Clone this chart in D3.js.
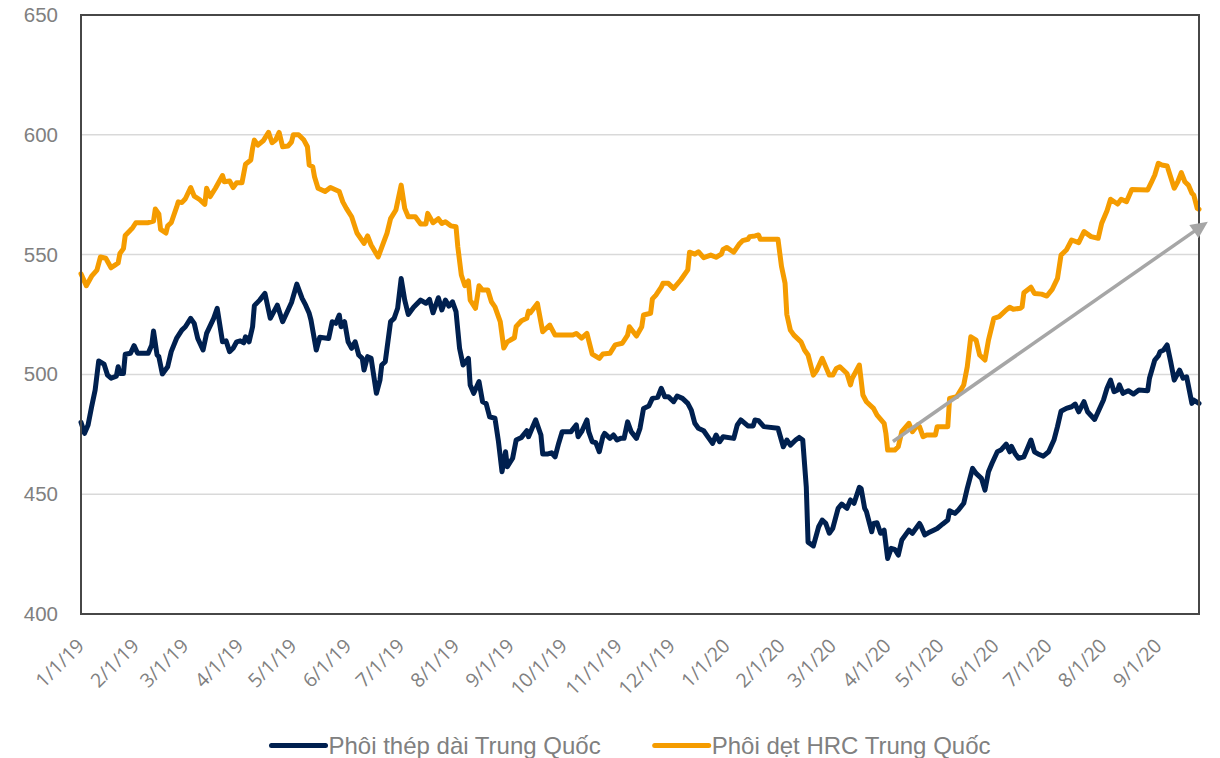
<!DOCTYPE html>
<html>
<head>
<meta charset="utf-8">
<script src="https://cdn.jsdelivr.net/npm/d3@7"></script>
<style>
  body { margin: 0; background: #fff; }
</style>
</head>
<body>
<svg id="chart" width="1220" height="758"></svg>
<script>
// Phôi dẹt HRC Trung Quốc
const hrcDates = [
  "2019-01-01","2019-01-04","2019-01-07","2019-01-10","2019-01-12","2019-01-15","2019-01-18","2019-01-20","2019-01-22","2019-01-23",
  "2019-01-25","2019-01-26","2019-01-29","2019-01-30","2019-02-01","2019-02-08","2019-02-11","2019-02-12","2019-02-14","2019-02-15",
  "2019-02-18","2019-02-19","2019-02-21","2019-02-24","2019-02-25","2019-02-27","2019-03-01","2019-03-04","2019-03-06","2019-03-09",
  "2019-03-12","2019-03-13","2019-03-15","2019-03-18","2019-03-22","2019-03-23","2019-03-26","2019-03-28","2019-03-30","2019-04-02",
  "2019-04-04","2019-04-07","2019-04-08","2019-04-09","2019-04-11","2019-04-14","2019-04-17","2019-04-19","2019-04-21","2019-04-23",
  "2019-04-25","2019-04-28","2019-04-30","2019-05-01","2019-05-04","2019-05-07","2019-05-09","2019-05-10","2019-05-12","2019-05-13",
  "2019-05-15","2019-05-19","2019-05-22","2019-05-27","2019-05-29","2019-05-31","2019-06-03","2019-06-06","2019-06-10","2019-06-12",
  "2019-06-14","2019-06-18","2019-06-20","2019-06-23","2019-06-25","2019-06-28","2019-07-01","2019-07-03","2019-07-05","2019-07-09",
  "2019-07-12","2019-07-15","2019-07-16","2019-07-19","2019-07-22","2019-07-24","2019-07-26","2019-07-29","2019-08-01","2019-08-02",
  "2019-08-04","2019-08-06","2019-08-08","2019-08-09","2019-08-12","2019-08-14","2019-08-16","2019-08-19","2019-08-21","2019-08-23",
  "2019-08-26","2019-08-28","2019-08-30","2019-09-03","2019-09-04","2019-09-07","2019-09-10","2019-09-11","2019-09-12","2019-09-16",
  "2019-09-19","2019-09-23","2019-09-26","2019-10-06","2019-10-08","2019-10-11","2019-10-14","2019-10-17","2019-10-21","2019-10-23",
  "2019-10-27","2019-10-30","2019-11-03","2019-11-06","2019-11-07","2019-11-11","2019-11-14","2019-11-15","2019-11-19","2019-11-20",
  "2019-11-22","2019-11-25","2019-11-26","2019-11-29","2019-12-02","2019-12-06","2019-12-10","2019-12-11","2019-12-14","2019-12-16",
  "2019-12-19","2019-12-23","2019-12-26","2019-12-29","2019-12-30","2020-01-01","2020-01-05","2020-01-08","2020-01-10","2020-01-13",
  "2020-01-14","2020-01-17","2020-01-19","2020-01-20","2020-01-30","2020-02-01","2020-02-03","2020-02-04","2020-02-06","2020-02-08",
  "2020-02-12","2020-02-14","2020-02-16","2020-02-19","2020-02-21","2020-02-24","2020-02-28","2020-03-01","2020-03-03","2020-03-05",
  "2020-03-09","2020-03-11","2020-03-12","2020-03-16","2020-03-18","2020-03-20","2020-03-24","2020-03-26","2020-03-30","2020-03-31",
  "2020-04-01","2020-04-05","2020-04-07","2020-04-09","2020-04-13","2020-04-15","2020-04-18","2020-04-19","2020-04-21","2020-04-23",
  "2020-04-28","2020-04-29","2020-05-05","2020-05-06","2020-05-10","2020-05-14","2020-05-16","2020-05-18","2020-05-21","2020-05-23",
  "2020-05-26","2020-05-28","2020-05-31","2020-06-03","2020-06-07","2020-06-09","2020-06-11","2020-06-15","2020-06-16","2020-06-17",
  "2020-06-21","2020-06-23","2020-06-27","2020-06-30","2020-07-03","2020-07-06","2020-07-08","2020-07-11","2020-07-14","2020-07-18",
  "2020-07-21","2020-07-25","2020-07-29","2020-07-31","2020-08-03","2020-08-05","2020-08-09","2020-08-11","2020-08-14","2020-08-17",
  "2020-08-26","2020-08-28","2020-08-30","2020-09-01","2020-09-03","2020-09-06","2020-09-10","2020-09-12","2020-09-14","2020-09-16",
  "2020-09-18","2020-09-20","2020-09-21","2020-09-23","2020-09-24"
];
const hrcValues = [
  542, 537, 541, 543.5, 549, 548.5, 544.5, 545.5, 546.5, 550.5,
  552.5, 558, 560.3, 561, 563.3, 563.3, 564, 569, 567, 560.5,
  559, 562, 563.3, 569.7, 572, 571.7, 573.3, 578, 574.4, 573,
  571, 577.7, 574.2, 577.7, 583, 580.4, 580.7, 578, 580, 580,
  587.7, 589.5, 594.4, 597.8, 595.7, 597.5, 601, 596.7, 597.8, 601,
  595, 595.3, 597, 600, 600, 597.8, 595, 587.4, 586.7, 582.5,
  577.7, 576.3, 578, 576.3, 572, 569.3, 565.8, 559, 554.7, 557.8,
  554, 549, 553, 559, 565, 568.6, 579, 569.3, 565.8, 565.8,
  562.8, 562.8, 567.2, 563.3, 565, 563, 563.7, 562, 561.6, 553.3,
  541.5, 537, 539, 531, 527.6, 537, 535.2, 535.2, 530.3, 528.2,
  522, 511, 513.6, 515.3, 520, 522.4, 523.4, 526.4, 525.7, 529.6,
  517.8, 520.6, 516.4, 516.4, 517.1, 515.1, 517.1, 508.5, 506.7, 508.5,
  508.8, 512.3, 513, 516.4, 519.9, 516, 519.9, 524.8, 525.5, 531.5,
  533.1, 536.4, 538, 538, 535.9, 539.4, 543.6, 551, 550.2, 551.2,
  548.7, 549.8, 548.9, 550.2, 552.2, 553, 551, 554.3, 555.8, 556.4,
  557.5, 557.8, 558.2, 556.4, 556.4, 545, 538, 525, 518.5, 516.4,
  513.6, 510.2, 508.1, 499.7, 501.8, 506.7, 499.7, 499.7, 502.5, 503.2,
  500.4, 495.6, 498.4, 503.9, 491.4, 488.6, 485.8, 483, 479.6, 475.4,
  468.4, 468.4, 469.8, 476.1, 479.6, 476.1, 478.9, 478.2, 474, 474.7,
  474.7, 478.2, 478.2, 490, 490.7, 495.6, 503.2, 515.7, 514.3, 508.1,
  506, 514.3, 523.4, 524.1, 526.9, 528, 527.2, 527.6, 528.2, 534.1,
  536.4, 533.8, 533.5, 532.7, 535.5, 540.1, 549.8, 551.9, 556.1, 555,
  559.6, 557.5, 556.8, 563.1, 568.3, 573.1, 571.1, 573.1, 572.1, 577.2,
  577, 580, 583.2, 588.1, 587.4, 587, 577.7, 580.4, 584.2, 580.4,
  579, 575.6, 574.9, 569.3, 568.9
];

// Phôi thép dài Trung Quốc
const billetDates = [
  "2019-01-01","2019-01-03","2019-01-05","2019-01-07","2019-01-09","2019-01-11","2019-01-14","2019-01-16","2019-01-18","2019-01-21",
  "2019-01-22","2019-01-23","2019-01-25","2019-01-26","2019-01-29","2019-01-31","2019-02-02","2019-02-08","2019-02-10","2019-02-11",
  "2019-02-13","2019-02-14","2019-02-16","2019-02-19","2019-02-21","2019-02-24","2019-02-27","2019-03-01","2019-03-04","2019-03-06",
  "2019-03-08","2019-03-11","2019-03-13","2019-03-17","2019-03-19","2019-03-22","2019-03-24","2019-03-26","2019-03-28","2019-03-30",
  "2019-04-01","2019-04-03","2019-04-04","2019-04-06","2019-04-08","2019-04-09","2019-04-12","2019-04-15","2019-04-18","2019-04-22",
  "2019-04-25","2019-04-30","2019-05-03","2019-05-06","2019-05-08","2019-05-10","2019-05-11","2019-05-14","2019-05-16","2019-05-21",
  "2019-05-23","2019-05-25","2019-05-27","2019-05-28","2019-05-30","2019-06-01","2019-06-03","2019-06-05","2019-06-07","2019-06-09",
  "2019-06-10","2019-06-12","2019-06-14","2019-06-17","2019-06-19","2019-06-20","2019-06-22","2019-06-25","2019-06-27","2019-06-29",
  "2019-07-01","2019-07-03","2019-07-05","2019-07-08","2019-07-12","2019-07-15","2019-07-17","2019-07-19","2019-07-22","2019-07-24",
  "2019-07-26","2019-07-28","2019-07-30","2019-08-01","2019-08-02","2019-08-03","2019-08-05","2019-08-08","2019-08-09","2019-08-11",
  "2019-08-14","2019-08-16","2019-08-18","2019-08-20","2019-08-23","2019-08-25","2019-08-27","2019-08-29","2019-08-30","2019-09-02",
  "2019-09-04","2019-09-07","2019-09-10","2019-09-11","2019-09-13","2019-09-15","2019-09-18","2019-09-19","2019-09-22","2019-09-24",
  "2019-09-26","2019-09-28","2019-09-30","2019-10-05","2019-10-06","2019-10-08","2019-10-09","2019-10-11","2019-10-14","2019-10-15",
  "2019-10-17","2019-10-19","2019-10-21","2019-10-23","2019-10-24","2019-10-27","2019-10-29","2019-10-31","2019-11-02","2019-11-04",
  "2019-11-06","2019-11-08","2019-11-11","2019-11-13","2019-11-15","2019-11-18","2019-11-20","2019-11-23","2019-11-25","2019-11-27",
  "2019-11-29","2019-12-02","2019-12-04","2019-12-07","2019-12-10","2019-12-12","2019-12-14","2019-12-16","2019-12-19","2019-12-22",
  "2019-12-24","2019-12-26","2019-12-28","2019-12-30","2020-01-05","2020-01-07","2020-01-09","2020-01-13","2020-01-16","2020-01-17",
  "2020-01-19","2020-01-22","2020-01-30","2020-02-02","2020-02-04","2020-02-06","2020-02-09","2020-02-11","2020-02-13","2020-02-15",
  "2020-02-16","2020-02-19","2020-02-22","2020-02-24","2020-02-26","2020-02-28","2020-03-01","2020-03-04","2020-03-06","2020-03-09",
  "2020-03-11","2020-03-13","2020-03-16","2020-03-17","2020-03-19","2020-03-20","2020-03-23","2020-03-24","2020-03-26","2020-03-28",
  "2020-03-30","2020-04-01","2020-04-03","2020-04-05","2020-04-07","2020-04-09","2020-04-13","2020-04-15","2020-04-19","2020-04-20",
  "2020-04-22","2020-04-24","2020-04-27","2020-04-29","2020-05-02","2020-05-05","2020-05-06","2020-05-09","2020-05-11","2020-05-14",
  "2020-05-16","2020-05-19","2020-05-21","2020-05-24","2020-05-26","2020-05-28","2020-05-30","2020-06-02","2020-06-04","2020-06-07",
  "2020-06-09","2020-06-10","2020-06-12","2020-06-14","2020-06-17","2020-06-19","2020-06-21","2020-06-23","2020-06-25","2020-06-28",
  "2020-07-01","2020-07-04","2020-07-06","2020-07-08","2020-07-11","2020-07-14","2020-07-16","2020-07-18","2020-07-21","2020-07-23",
  "2020-07-27","2020-07-29","2020-08-01","2020-08-03","2020-08-05","2020-08-07","2020-08-09","2020-08-10","2020-08-12","2020-08-15",
  "2020-08-18","2020-08-21","2020-08-26","2020-08-27","2020-08-30","2020-09-01","2020-09-02","2020-09-04","2020-09-06","2020-09-08",
  "2020-09-10","2020-09-13","2020-09-15","2020-09-17","2020-09-20","2020-09-21","2020-09-24"
];
const billetValues = [
  480, 475.4, 478.9, 486.5, 493.5, 505.6, 504.3, 499.7, 498.4, 499.3,
  503.2, 500.4, 500.4, 508.4, 508.8, 512, 508.8, 508.8, 512.3, 518.1,
  508.1, 507.4, 500.2, 503.2, 509.5, 515, 518.5, 519.9, 523.4, 521.3,
  515, 510.2, 517.1, 523.4, 527.6, 513.6, 514, 509.5, 510.9, 513.6,
  514, 513.2, 515.7, 513.6, 519.9, 528.7, 531, 533.8, 523.4, 528.9,
  522, 530, 537.7, 531.7, 528.9, 525.5, 522.7, 510.2, 515.5, 515,
  522, 521.3, 524.8, 519.9, 522, 513.6, 510.9, 513.6, 508.1, 506.7,
  501.8, 507.4, 506.7, 492.1, 497.6, 503.9, 505.3, 522, 523.4, 527.6,
  540, 531, 525, 528, 531, 529.7, 531.3, 525.7, 532, 526.9,
  531, 528.5, 530.3, 526.2, 518.5, 510.9, 503.9, 506.7, 495.6, 492.1,
  497, 488.6, 487.9, 482.3, 481.7, 471.9, 459.4, 467.7, 461.5, 465,
  472.6, 473.7, 476.5, 474, 477.5, 481, 474.7, 466.8, 466.8, 467.3,
  465.6, 471.2, 476.1, 476.1, 477.1, 478.9, 474, 476.1, 481, 476.1,
  471.9, 471.5, 467.7, 474, 475.4, 473.3, 474.7, 472.6, 473.3, 473.3,
  480.2, 476.1, 473.3, 477.5, 485.8, 486.8, 490, 490.4, 494.2, 490.7,
  490.7, 488.6, 491, 490, 487.9, 485.1, 479.6, 477.5, 476.5, 473.3,
  471.2, 474.7, 471.9, 474, 473.3, 478.9, 481, 478.5, 478.5, 481,
  480.7, 478.2, 477.5, 469.8, 472.6, 470.5, 472.6, 473.7, 472.6, 453,
  430, 428.4, 436.4, 439.2, 437.8, 433.7, 435.8, 444.1, 445.9, 444.1,
  447.6, 446.2, 452.9, 452.4, 444.1, 442.7, 434.3, 437.8, 438.1, 433.7,
  435, 423.2, 427.4, 427, 424.6, 430.9, 435, 433.7, 437.8, 436.4,
  433, 433.9, 435, 435.7, 437.5, 439.2, 443.1, 442, 443.4, 446.2,
  452.4, 460.8, 458.7, 456.6, 451.7, 459.4, 462.9, 467.7, 468.4, 470.9,
  467.7, 470, 467, 465, 465.6, 469.1, 472.6, 467.7, 466.8, 465.9,
  467.7, 472.6, 478.2, 484.6, 485.8, 486.5, 487.6, 484.4, 488.6, 484.4,
  481.2, 484.4, 489.3, 494.2, 497.6, 492.8, 493.5, 495.6, 492.1, 493.2,
  491.8, 493.5, 493.2, 498.4, 506, 507.7, 509.5, 510.2, 512.3, 505.3,
  497.6, 501.8, 498.4, 499, 487.9, 489.3, 487.9
];

const yTicks = [400, 450, 500, 550, 600, 650];
const seriesNames = ["Phôi thép dài Trung Quốc", "Phôi dẹt HRC Trung Quốc"];
const seriesColors = ["#00204f", "#f59c00"];
// gray trend arrow (start, end)
const trendDates = ["2020-04-04", "2020-09-29"];
const trendValues = [472, 563.7];

const parse = d3.timeParse("%Y-%m-%d");
const svg = d3.select("#chart");

const plotL = 81, plotR = 1199, plotT = 15, plotB = 614;

const x = d3.scaleTime()
  .domain([parse("2019-01-01"), parse("2020-09-24")])
  .range([plotL, plotR]);
const y = d3.scaleLinear().domain([400, 650]).range([plotB, plotT]);

const billet = billetDates.map((d, i) => ({ date: parse(d), value: billetValues[i] }));
const hrc = hrcDates.map((d, i) => ({ date: parse(d), value: hrcValues[i] }));

// grid
svg.append("g")
  .selectAll("line")
  .data(yTicks.slice(1, -1))
  .enter().append("line")
  .attr("x1", plotL).attr("x2", plotR)
  .attr("y1", d => y(d)).attr("y2", d => y(d))
  .attr("stroke", "#d9d9d9")
  .attr("stroke-width", 1.5);

// y axis labels
const yAxis = svg.append("g")
  .attr("transform", "translate(" + plotL + ",0)")
  .call(d3.axisLeft(y).tickValues(yTicks).tickSize(0).tickPadding(23));
yAxis.select(".domain").remove();
yAxis.selectAll("text")
  .attr("fill", "#808080")
  .style("font-family", "'Liberation Sans', Arial, sans-serif")
  .style("font-size", "20.5px");

// x axis labels
const xAxis = svg.append("g")
  .attr("transform", "translate(0," + plotB + ")")
  .call(d3.axisBottom(x)
    .tickValues(d3.timeMonth.range(x.domain()[0], x.domain()[1]))
    .tickFormat(d3.timeFormat("%-m/%-d/%y"))
    .tickSize(0));
xAxis.select(".domain").remove();
xAxis.selectAll("text")
  .attr("y", 0).attr("dy", 0)
  .attr("text-anchor", "end")
  .attr("transform", "translate(4,33) rotate(-45)")
  .attr("fill", "#808080")
  .style("font-family", "'Open Sans', sans-serif")
  .style("font-size", "19.5px");

// lines
const line = d3.line()
  .x(d => x(d.date))
  .y(d => y(d.value));

[billet, hrc].forEach((data, i) => {
  svg.append("path")
    .datum(data)
    .attr("fill", "none")
    .attr("stroke", seriesColors[i])
    .attr("stroke-width", 5)
    .attr("stroke-linejoin", "round")
    .attr("stroke-linecap", "round")
    .attr("d", line);
});

// plot frame
svg.append("rect")
  .attr("x", plotL).attr("y", plotT)
  .attr("width", plotR - plotL).attr("height", plotB - plotT)
  .attr("fill", "none")
  .attr("stroke", "#474747")
  .attr("stroke-width", 2);

// trend arrow
const p0 = [x(parse(trendDates[0])), y(trendValues[0])];
const p1 = [x(parse(trendDates[1])), y(trendValues[1])];
const ang = Math.atan2(p1[1] - p0[1], p1[0] - p0[0]);
const headLen = 17, headW = 8;
const bx = p1[0] - headLen * Math.cos(ang), by = p1[1] - headLen * Math.sin(ang);
svg.append("line")
  .attr("x1", p0[0]).attr("y1", p0[1])
  .attr("x2", bx + 2 * Math.cos(ang)).attr("y2", by + 2 * Math.sin(ang))
  .attr("stroke", "#a6a6a6")
  .attr("stroke-width", 3.5);
svg.append("path")
  .attr("d", "M" + p1[0] + "," + p1[1] +
    "L" + (bx + headW * Math.sin(ang)) + "," + (by - headW * Math.cos(ang)) +
    "L" + (bx - headW * Math.sin(ang)) + "," + (by + headW * Math.cos(ang)) + "Z")
  .attr("fill", "#a6a6a6");

// legend
const legend = svg.append("g");
let lx = 0;
seriesNames.forEach((name, i) => {
  const item = legend.append("g").attr("transform", "translate(" + lx + ",0)");
  item.append("line")
    .attr("x1", 2).attr("x2", 56)
    .attr("y1", 745.5).attr("y2", 745.5)
    .attr("stroke", seriesColors[i])
    .attr("stroke-width", 5)
    .attr("stroke-linecap", "round");
  const t = item.append("text")
    .attr("x", 59).attr("y", 754)
    .attr("fill", "#808080")
    .style("font-family", "'Liberation Sans', Arial, sans-serif")
    .style("font-size", "24px")
    .text(name);
  lx += 59 + t.node().getComputedTextLength() + 52;
});
const legendW = lx - 52;
legend.attr("transform", "translate(" + (630 - legendW / 2) + ",0)");
</script>
</body>
</html>
